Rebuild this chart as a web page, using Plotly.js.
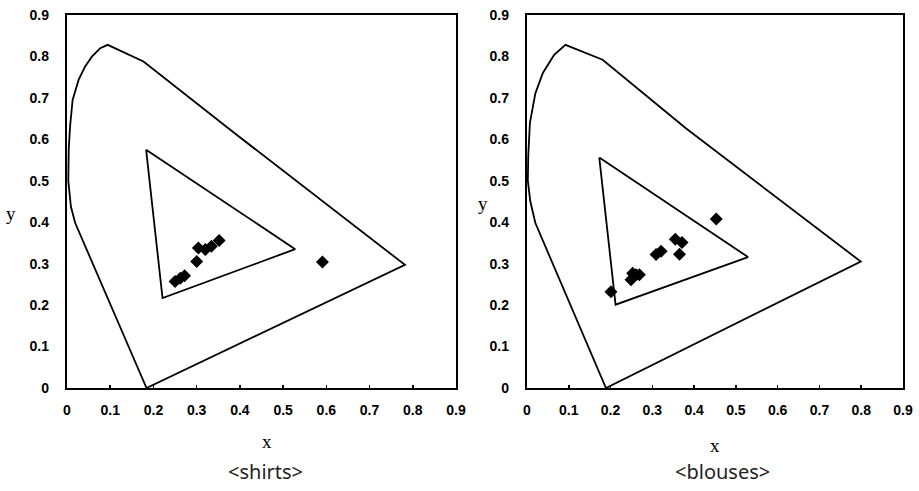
<!DOCTYPE html>
<html>
<head>
<meta charset="utf-8">
<script src="https://cdn.plot.ly/plotly-3.0.1.min.js"></script>
<style>html,body{margin:0;padding:0;background:#fff;}#chart{width:919px;height:491px;}</style>
</head>
<body>
<div id="chart"></div>
<script>
// Tick labels
const tickVals = [0, 0.1, 0.2, 0.3, 0.4, 0.5, 0.6, 0.7, 0.8, 0.9];
const tickText = ["0", "0.1", "0.2", "0.3", "0.4", "0.5", "0.6", "0.7", "0.8", "0.9"];

// Shirts panel: outer locus
const shirtsLocusX = [0.184, 0.019, 0.009, 0.003, 0.004, 0.007, 0.013, 0.027, 0.042, 0.058, 0.077, 0.094, 0.177, 0.385, 0.782, 0.184];
const shirtsLocusY = [0.000, 0.398, 0.438, 0.500, 0.575, 0.630, 0.695, 0.744, 0.776, 0.800, 0.820, 0.828, 0.788, 0.617, 0.297, 0.000];
// Shirts panel: inner triangle
const shirtsTriX = [0.183, 0.528, 0.221, 0.183];
const shirtsTriY = [0.575, 0.335, 0.217, 0.575];
// Shirts samples
const shirtsX = [0.250, 0.262, 0.272, 0.300, 0.304, 0.320, 0.334, 0.352, 0.591];
const shirtsY = [0.257, 0.265, 0.271, 0.305, 0.338, 0.334, 0.342, 0.356, 0.304];

// Blouses panel: outer locus
const blousesLocusX = [0.189, 0.020, 0.008, 0.002, 0.003, 0.007, 0.020, 0.038, 0.065, 0.092, 0.181, 0.381, 0.799, 0.189];
const blousesLocusY = [0.000, 0.398, 0.450, 0.500, 0.560, 0.640, 0.711, 0.760, 0.804, 0.828, 0.792, 0.626, 0.305, 0.000];
// Blouses panel: inner triangle
const blousesTriX = [0.173, 0.529, 0.212, 0.173];
const blousesTriY = [0.556, 0.316, 0.201, 0.556];
// Blouses samples
const blousesX = [0.453, 0.355, 0.371, 0.365, 0.309, 0.321, 0.253, 0.261, 0.249, 0.269, 0.201];
const blousesY = [0.408, 0.359, 0.351, 0.323, 0.322, 0.330, 0.277, 0.273, 0.261, 0.273, 0.232];

const lineStyle = {color: '#000', width: 1.8};
const markerStyle = {symbol: 'diamond', size: 10, color: '#000'};

const traces = [
  {x: shirtsLocusX, y: shirtsLocusY, mode: 'lines', line: lineStyle, xaxis: 'x', yaxis: 'y', hoverinfo: 'skip'},
  {x: shirtsTriX, y: shirtsTriY, mode: 'lines', line: lineStyle, xaxis: 'x', yaxis: 'y', hoverinfo: 'skip'},
  {x: shirtsX, y: shirtsY, mode: 'markers', marker: markerStyle, xaxis: 'x', yaxis: 'y'},
  {x: blousesLocusX, y: blousesLocusY, mode: 'lines', line: lineStyle, xaxis: 'x2', yaxis: 'y2', hoverinfo: 'skip'},
  {x: blousesTriX, y: blousesTriY, mode: 'lines', line: lineStyle, xaxis: 'x2', yaxis: 'y2', hoverinfo: 'skip'},
  {x: blousesX, y: blousesY, mode: 'markers', marker: markerStyle, xaxis: 'x2', yaxis: 'y2'}
];

const W = 919, H = 491;
const boldTicks = tickText.map(t => '<b>' + t + '</b>');

function xAxis(d0, d1, anchor) {
  return {
    domain: [d0 / W, d1 / W], range: [0, 0.9], anchor: anchor,
    tickmode: 'array', tickvals: tickVals, ticktext: boldTicks,
    ticks: 'inside', ticklen: 3, tickwidth: 1.5, tickcolor: '#000',
    showline: true, linecolor: '#000', linewidth: 2.2, mirror: true,
    showgrid: false, zeroline: false,
    tickfont: {family: 'Liberation Sans', size: 14, color: '#000'},
    ticklabelstandoff: 8, fixedrange: true
  };
}
function yAxis(anchor) {
  return {
    domain: [(H - 388) / H, (H - 15) / H], range: [0, 0.9], anchor: anchor,
    tickmode: 'array', tickvals: tickVals, ticktext: boldTicks,
    ticks: '', showline: true, linecolor: '#000', linewidth: 2.2, mirror: true,
    showgrid: false, zeroline: false,
    tickfont: {family: 'Liberation Sans', size: 14, color: '#000'},
    ticklabelstandoff: 13, fixedrange: true
  };
}

function ann(text, px, py, font) {
  return {text: text, x: px / W, y: 1 - py / H, xref: 'paper', yref: 'paper',
          showarrow: false, xanchor: 'center', yanchor: 'middle', font: font};
}
const serif = {family: 'Liberation Serif', size: 19, color: '#000'};
const sans = {family: 'Noto Sans', size: 20, color: '#222'};

const layout = {
  width: W, height: H,
  margin: {l: 0, r: 0, t: 0, b: 0},
  paper_bgcolor: '#fff', plot_bgcolor: '#fff',
  showlegend: false,
  xaxis: xAxis(67, 456, 'y'),
  yaxis: yAxis('x'),
  xaxis2: xAxis(527, 903, 'y2'),
  yaxis2: yAxis('x2'),
  annotations: [
    ann('x', 267, 441, serif),
    ann('x', 715, 445, serif),
    ann('y', 11, 213, serif),
    ann('y', 483, 203, serif),
    ann('&lt;shirts&gt;', 265, 471, sans),
    ann('&lt;blouses&gt;', 722, 471, sans)
  ]
};

Plotly.newPlot('chart', traces, layout, {displayModeBar: false, staticPlot: true});
</script>
</body>
</html>
